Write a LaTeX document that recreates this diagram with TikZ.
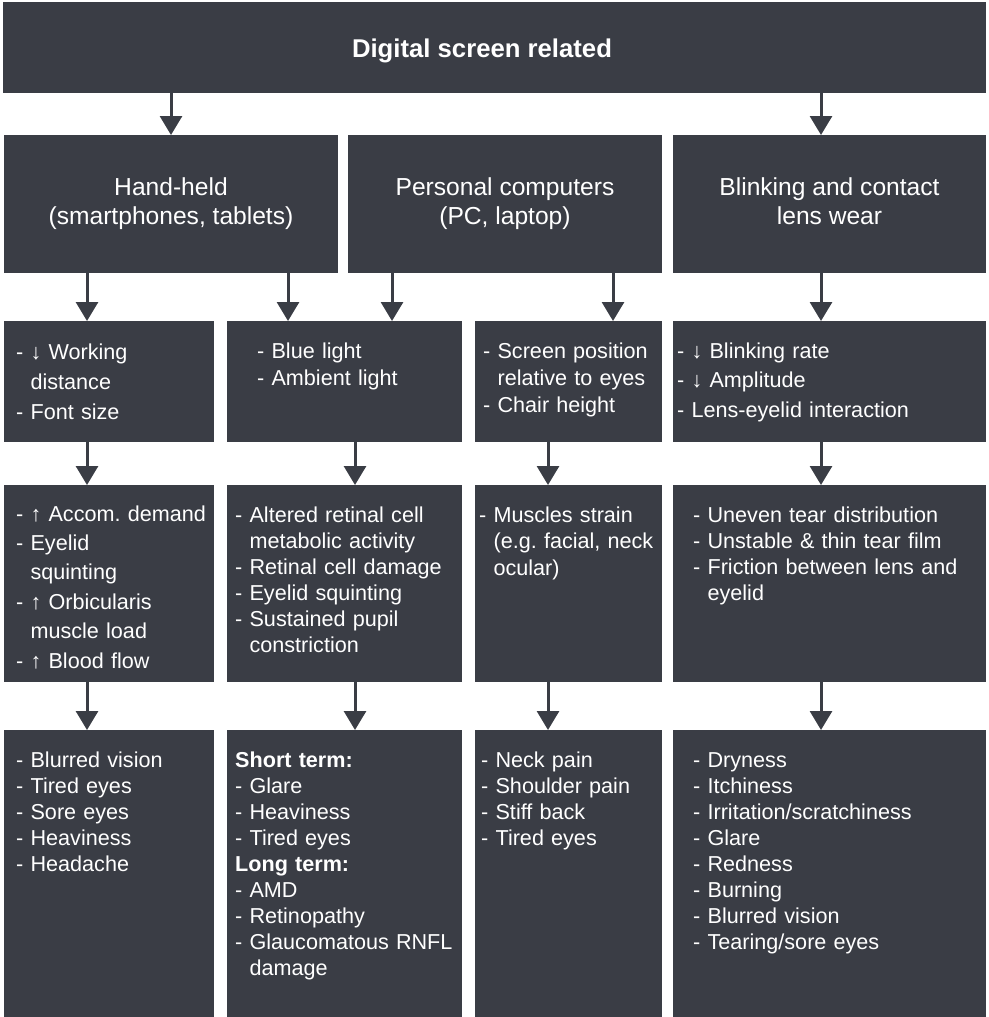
\documentclass[tikz,border=0pt]{standalone}
\usepackage{fontspec}
\setmainfont{Liberation Sans}
\usetikzlibrary{arrows.meta}
\definecolor{slate}{RGB}{58,61,69}
\frenchspacing

\begin{document}
\begin{tikzpicture}[x=1pt,y=-1pt,
	box/.style={fill=slate,inner sep=0pt,outer sep=0pt,anchor=north west},
	head/.style={box,text=white,align=center,font=\fontsize{24.6}{29}\selectfont},
	txt/.style={text=white,inner sep=0pt,anchor=base west,align=left,text width=300pt,font=\fontsize{21.6}{#1}\selectfont},
	arr/.style={slate,line width=3pt,-{Triangle[width=22pt,length=19pt]}}]
\useasboundingbox (0,0) rectangle (988,1017);

% columns of the arrows
\coordinate (xa) at (87,0);
\coordinate (xb) at (288,0);
\coordinate (xc) at (392,0);
\coordinate (xd) at (613,0);
\coordinate (xe) at (821,0);
\coordinate (xf) at (355,0);
\coordinate (xg) at (548,0);

% top and headers
\node[box,minimum width=983pt,minimum height=91pt] (screen) at (3,2) {};
\node[text=white,inner sep=0pt,anchor=base,font=\bfseries\fontsize{25.7}{30}\selectfont] (tscreen) at (482,57) {Digital screen related};
\node[head,minimum width=334pt,minimum height=138pt] (hand) at (4,135) {\strut Hand-held\\(smartphones, tablets)\strut};
\node[head,minimum width=314pt,minimum height=138pt] (pc) at (348,135) {\strut Personal computers\\(PC, laptop)\strut};
\node[head,minimum width=313pt,minimum height=138pt] (blink) at (673,135) {\strut Blinking and contact\\lens wear\strut};

% factors
\node[box,minimum width=210pt,minimum height=121pt] (dist) at (4,321) {};
\node[box,minimum width=235pt,minimum height=121pt] (light) at (227,321) {};
\node[box,minimum width=187pt,minimum height=121pt] (posn) at (475,321) {};
\node[box,minimum width=313pt,minimum height=121pt] (rate) at (673,321) {};
\node[txt=30pt] (tdist) at (16,359) {- ↓ Working\\\phantom{- }distance\\- Font size};
\node[txt=27pt] (tlight) at (257,358) {- Blue light\\- Ambient light};
\node[txt=27pt] (tposn) at (483,358) {- Screen position\\\phantom{- }relative to eyes\\- Chair height};
\node[txt=29.5pt] (trate) at (677,358) {- ↓ Blinking rate\\- ↓ Amplitude\\- Lens-eyelid interaction};

% mechanisms
\node[box,minimum width=210pt,minimum height=197pt] (accom) at (4,485) {};
\node[box,minimum width=235pt,minimum height=197pt] (retina) at (227,485) {};
\node[box,minimum width=187pt,minimum height=197pt] (muscle) at (475,485) {};
\node[box,minimum width=313pt,minimum height=197pt] (tear) at (673,485) {};
\node[txt=29.4pt] (taccom) at (16,521) {- ↑ Accom. demand\\- Eyelid\\\phantom{- }squinting\\- ↑ Orbicularis\\\phantom{- }muscle load\\- ↑ Blood flow};
\node[txt=26pt] (tretina) at (235,522) {- Altered retinal cell\\\phantom{- }metabolic activity\\- Retinal cell damage\\- Eyelid squinting\\- Sustained pupil\\\phantom{- }constriction};
\node[txt=26.5pt] (tmuscle) at (479,522) {- Muscles strain\\\phantom{- }(e.g. facial, neck\\\phantom{- }ocular)};
\node[txt=26pt] (ttear) at (693,522) {- Uneven tear distribution\\- Unstable \& thin tear film\\- Friction between lens and\\\phantom{- }eyelid};

% symptoms
\node[box,minimum width=210pt,minimum height=287pt] (syma) at (4,730) {};
\node[box,minimum width=235pt,minimum height=287pt] (symb) at (227,730) {};
\node[box,minimum width=187pt,minimum height=287pt] (symc) at (475,730) {};
\node[box,minimum width=313pt,minimum height=287pt] (symd) at (673,730) {};
\node[txt=26pt] (tsyma) at (16,767) {- Blurred vision\\- Tired eyes\\- Sore eyes\\- Heaviness\\- Headache};
\node[txt=26.1pt] (tsymb) at (235,767) {\textbf{Short term:}\\- Glare\\- Heaviness\\- Tired eyes\\\textbf{Long term:}\\- AMD\\- Retinopathy\\- Glaucomatous RNFL\\\phantom{- }damage};
\node[txt=26pt] (tsymc) at (481,767) {- Neck pain\\- Shoulder pain\\- Stiff back\\- Tired eyes};
\node[txt=26.1pt] (tsymd) at (693,767) {- Dryness\\- Itchiness\\- Irritation/scratchiness\\- Glare\\- Redness\\- Burning\\- Blurred vision\\- Tearing/sore eyes};

% arrows
\draw[arr] (screen.south -| hand.north) -- (hand.north);
\draw[arr] (screen.south -| xe) -- (blink.north -| xe);
\draw[arr] (hand.south -| xa) -- (dist.north -| xa);
\draw[arr] (hand.south -| xb) -- (light.north -| xb);
\draw[arr] (pc.south -| xc) -- (light.north -| xc);
\draw[arr] (pc.south -| xd) -- (posn.north -| xd);
\draw[arr] (blink.south -| xe) -- (rate.north -| xe);
\draw[arr] (dist.south -| xa) -- (accom.north -| xa);
\draw[arr] (light.south -| xf) -- (retina.north -| xf);
\draw[arr] (posn.south -| xg) -- (muscle.north -| xg);
\draw[arr] (rate.south -| xe) -- (tear.north -| xe);
\draw[arr] (accom.south -| xa) -- (syma.north -| xa);
\draw[arr] (retina.south -| xf) -- (symb.north -| xf);
\draw[arr] (muscle.south -| xg) -- (symc.north -| xg);
\draw[arr] (tear.south -| xe) -- (symd.north -| xe);
\end{tikzpicture}
\end{document}
